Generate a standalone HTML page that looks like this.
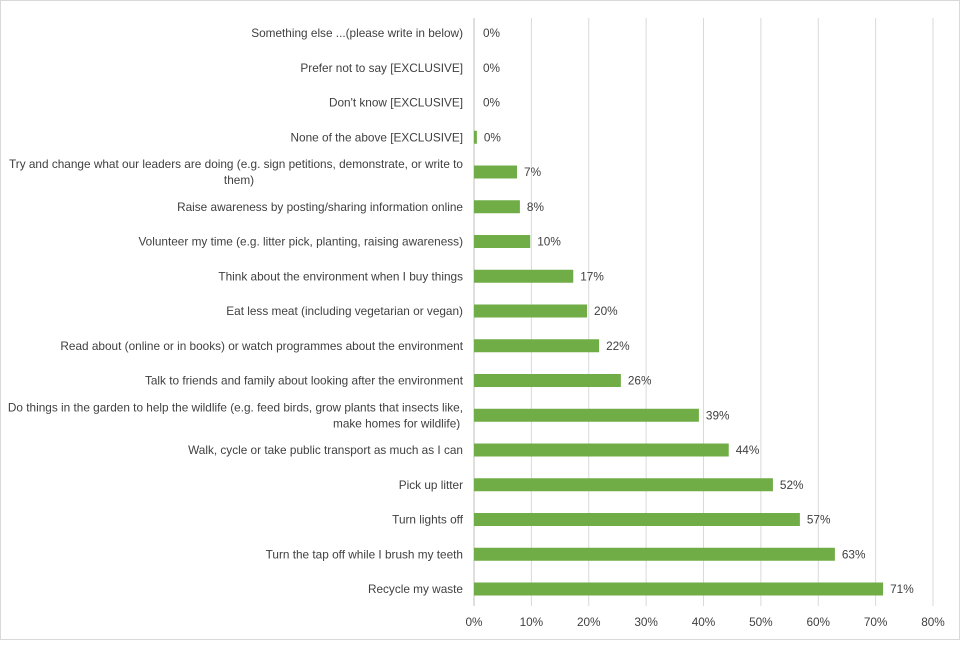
<!DOCTYPE html>
<html><head><meta charset="utf-8"><style>
html,body{margin:0;padding:0;background:#fff}
body{width:960px;height:640px;overflow:hidden;font-family:"Liberation Sans",sans-serif}
svg text{font-family:"Liberation Sans",sans-serif;fill:#404040;font-size:11.8px}
</style></head><body>
<svg id="chart" width="960" height="640">
<rect x="0.5" y="0.5" width="959" height="639" fill="#fff" stroke="#d9d9d9"/>
<g id="grid"></g><g id="bars"></g><g id="labels"></g><g id="ticks"></g>
</svg>
<script>
const categories=[
["Something else ...(please write in below)"],
["Prefer not to say [EXCLUSIVE]"],
["Don't know [EXCLUSIVE]"],
["None of the above [EXCLUSIVE]"],
["Try and change what our leaders are doing (e.g. sign petitions, demonstrate, or write to","them)"],
["Raise awareness by posting/sharing information online"],
["Volunteer my time (e.g. litter pick, planting, raising awareness)"],
["Think about the environment when I buy things"],
["Eat less meat (including vegetarian or vegan)"],
["Read about (online or in books) or watch programmes about the environment"],
["Talk to friends and family about looking after the environment"],
["Do things in the garden to help the wildlife (e.g. feed birds, grow plants that insects like,","make homes for wildlife)"],
["Walk, cycle or take public transport as much as I can"],
["Pick up litter"],
["Turn lights off"],
["Turn the tap off while I brush my teeth"],
["Recycle my waste"]];
const values=[0,0,0,0.5,7.5,8,9.8,17.3,19.7,21.8,25.6,39.2,44.4,52.1,56.8,62.9,71.3];
const valueLabels=["0%","0%","0%","0%","7%","8%","10%","17%","20%","22%","26%","39%","44%","52%","57%","63%","71%"];
const ticks=[0,10,20,30,40,50,60,70,80];
const NS="http://www.w3.org/2000/svg";
const x0=474,x1=933,xmax=80,yTop=33,yBot=589,plotTop=18,plotBot=606;
const xs=v=>x0+(x1-x0)*v/xmax;
const ys=i=>yTop+(yBot-yTop)*i/(categories.length-1);
function mk(t,a,p){const e=document.createElementNS(NS,t);for(const k in a)e.setAttribute(k,a[k]);p.appendChild(e);return e;}
const G=document.getElementById('grid'),B=document.getElementById('bars'),L=document.getElementById('labels'),T=document.getElementById('ticks');
ticks.forEach(t=>{
 const l=mk('line',{x1:xs(t),x2:xs(t),y1:plotTop,y2:plotBot,stroke:t===0?'#bfbfbf':'#d9d9d9','stroke-width':1},G);
 
 
 const tx=mk('text',{x:xs(t),y:626,'text-anchor':'middle','font-size':'11.5'},T);tx.textContent=t+'%';
 
 
});
categories.forEach((c,i)=>{
 const y=ys(i);
 const lines=c;
 lines.forEach((s,j)=>{
  const yy=y+4+(j-(lines.length-1)/2)*16;
  let attrs={x:463,y:yy,'text-anchor':'end'};
  if(j>0){
   if(i===4) attrs={x:239,y:yy,'text-anchor':'middle'};
   else attrs={x:333,y:yy,'text-anchor':'start'};
  }
  const lab=mk('text',attrs,L);lab.textContent=s;
  
  
 });
 if(values[i]>0){
  const r=mk('rect',{x:x0,y:y-6.5,width:xs(values[i])-x0,height:13,fill:'#70ad47'},B);
  
  
 }
 const v=mk('text',{x:xs(values[i])+(values[i]>0?7:9),y:y+4},L);v.textContent=valueLabels[i];
 
 
});
</script>
</body></html>
